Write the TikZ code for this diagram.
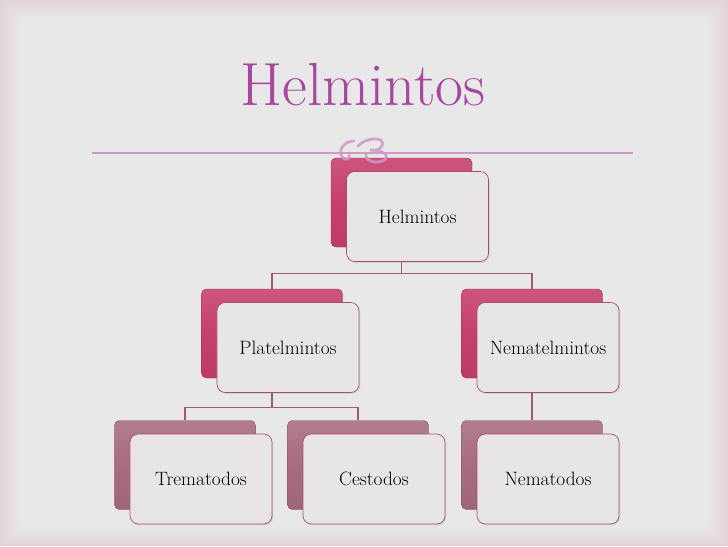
\documentclass[tikz,border=0pt]{standalone}
\usepackage{fontspec}
\usepackage{tikz}
\usetikzlibrary{shadows}
\definecolor{bgpink}{HTML}{E2D4DB}
\definecolor{bggrey}{HTML}{E9E8E8}
\definecolor{titlepurple}{HTML}{A6489D}
\definecolor{rulepurple}{HTML}{CF98C6}
\definecolor{backA}{HTML}{C63E6C}
\definecolor{backB}{HTML}{A86B80}
\definecolor{edgepink}{HTML}{A2506F}
\definecolor{frontgrey}{HTML}{E8E5E7}
\definecolor{connpink}{HTML}{9E5A73}
\tikzstyle{backbox}=[rectangle,rounded corners=1.5mm,draw=backA!75!black,
                     top color=backA!88!white,bottom color=backA!95!black,
                     middle color=backA,
                     inner sep=0pt,minimum width=4.23cm,minimum height=2.67cm]
\tikzstyle{backboxlow}=[backbox,draw=backB!75!black,
                        top color=backB!88!white,bottom color=backB!95!black,
                        middle color=backB]
\tikzstyle{frontbox}=[rectangle,rounded corners=2.5mm,draw=edgepink,
                      line width=0.6pt,fill=frontgrey,
                      inner sep=0pt,
                      minimum width=4.26cm,minimum height=2.7cm,
                      drop shadow={opacity=0.2,shadow xshift=0.4mm,shadow yshift=-0.4mm},
                      font=\fontsize{16.5}{19}\selectfont]
\tikzstyle{conn}=[draw=connpink,line width=0.9pt]

\begin{document}
\begin{tikzpicture}[x=0.03cm,y=-0.03cm]
  \useasboundingbox (0,0) rectangle (728,546);
  % slide background
  \foreach \i [evaluate=\i as \p using \i*10] in {0,...,10}
    \fill[bggrey!\p!bgpink] (2*\i,2*\i) rectangle (728-2*\i,546-2*\i);
  % title
  \node[anchor=base,text=titlepurple,font=\fontsize{52}{60}\selectfont]
    (title) at (363,105) {Helmintos};
  \draw[rulepurple,line width=1pt] (92,153) -- (633,153);
  % back boxes
  \node (helmB) at (401.5,202.5) [backbox]{};
  \node (platB) at (272,333.5) [backbox]{};
  \node (nemaB) at (532,333.5) [backbox]{};
  \node (tremB) at (185,465) [backboxlow]{};
  \node (cestB) at (358,465) [backboxlow]{};
  \node (nmtdB) at (532,465) [backboxlow]{};
  % connectors
  \draw[conn] (helmB.south) -- ++(0,26) -| (platB.north);
  \draw[conn] (helmB.south) -- ++(0,26) -| (nemaB.north);
  \draw[conn] (platB.south) -- ++(0,29) -| (tremB.north);
  \draw[conn] (platB.south) -- ++(0,29) -| (cestB.north);
  \draw[conn] (nemaB.south) -- (nmtdB.north);
  % front boxes
  \node (helmF) at (417.5,216.5) [frontbox]{Helmintos};
  \node (platF) at (288,347.5) [frontbox]{Platelmintos};
  \node (nemaF) at (548,347.5) [frontbox]{Nematelmintos};
  \node (tremF) at (201,479) [frontbox]{Trematodos};
  \node (cestF) at (374,479) [frontbox]{Cestodos};
  \node (nmtdF) at (548,479) [frontbox]{Nematodos};
  % flourish
  \begin{scope}[draw=rulepurple,line width=2.4pt,opacity=0.85,line cap=round]
    \draw (354,141) .. controls (343,141) and (337,152) .. (343,158)
          .. controls (346,161) and (351,158) .. (349,155);
    \draw (358,146) .. controls (366,137) and (386,136) .. (382,146)
          .. controls (380,150) and (374,151) .. (370,150)
          .. controls (388,150) and (392,160) .. (378,162)
          .. controls (370,163) and (365,158) .. (366,155);
  \end{scope}
\end{tikzpicture}
\end{document}
